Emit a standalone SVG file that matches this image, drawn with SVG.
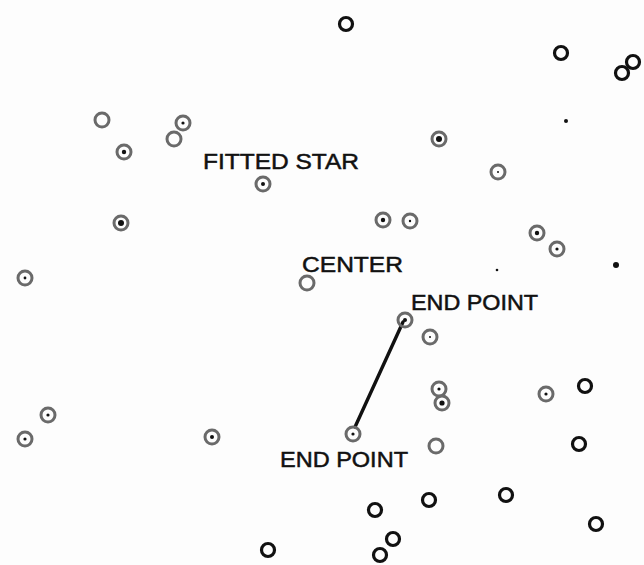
<svg xmlns="http://www.w3.org/2000/svg" width="644" height="565" viewBox="0 0 644 565">
<defs>
<style>
.bg{fill:#fdfdfd}
.g{fill:none;stroke:#6a6a6a;stroke-width:3}
.k{fill:none;stroke:#111;stroke-width:3.2}
.d{fill:#111}
.lbl{font-family:"Liberation Sans",Arial,sans-serif;font-size:22px;fill:#111;stroke:#111;stroke-width:0.5}
.conn{stroke:#111;stroke-width:3.4;stroke-linecap:round;fill:none}
</style>
</defs>
<rect class="bg" x="0" y="0" width="644" height="565"/>
<g id="connectors">
<line class="conn" x1="403" y1="322" x2="355" y2="427"/>
</g>
<g id="stars-black">
<circle class="k" cx="346" cy="24" r="6.5"/>
<circle class="k" cx="561" cy="53" r="6.5"/>
<circle class="k" cx="633" cy="62" r="6.5"/>
<circle class="k" cx="622" cy="73" r="6.5"/>
<circle class="k" cx="585" cy="386" r="6.5"/>
<circle class="k" cx="579" cy="444" r="6.5"/>
<circle class="k" cx="375" cy="510" r="6.5"/>
<circle class="k" cx="429" cy="500" r="6.5"/>
<circle class="k" cx="506" cy="495" r="6.5"/>
<circle class="k" cx="596" cy="524" r="6.5"/>
<circle class="k" cx="393" cy="539" r="6.5"/>
<circle class="k" cx="380" cy="555" r="6.5"/>
<circle class="k" cx="268" cy="550" r="6.5"/>
</g>
<g id="stars-gray">
<circle class="g" cx="102" cy="120" r="7"/>
<circle class="g" cx="183" cy="123" r="7"/><circle class="d" cx="183" cy="123" r="1.6"/>
<circle class="g" cx="174" cy="139" r="7"/>
<circle class="g" cx="124" cy="152" r="7"/><circle class="d" cx="124" cy="152" r="2.2"/>
<circle class="g" cx="121" cy="223" r="7"/><circle class="d" cx="121" cy="223" r="3"/>
<circle class="g" cx="439" cy="139" r="7"/><circle class="d" cx="439" cy="139" r="3"/>
<circle class="g" cx="498" cy="172" r="7"/><circle class="d" cx="498" cy="172" r="1"/>
<circle class="g" cx="383" cy="220" r="7"/><circle class="d" cx="383" cy="220" r="2.2"/>
<circle class="g" cx="410" cy="221" r="7"/><circle class="d" cx="410" cy="221" r="1.2"/>
<circle class="g" cx="537" cy="233" r="7"/><circle class="d" cx="537" cy="233" r="2.2"/>
<circle class="g" cx="557" cy="249" r="7"/><circle class="d" cx="557" cy="249" r="1.6"/>
<circle class="g" cx="25" cy="278" r="7"/><circle class="d" cx="25" cy="278" r="1.4"/>
<circle class="g" cx="430" cy="337" r="7"/><circle class="d" cx="430" cy="337" r="1"/>
<circle class="g" cx="439" cy="389" r="7"/><circle class="d" cx="439" cy="389" r="1.6"/>
<circle class="g" cx="442" cy="403" r="7"/><circle class="d" cx="442" cy="403" r="2.6"/>
<circle class="g" cx="546" cy="394" r="7"/><circle class="d" cx="546" cy="394" r="1.6"/>
<circle class="g" cx="436" cy="446" r="7"/>
<circle class="g" cx="48" cy="415" r="7"/><circle class="d" cx="48" cy="415" r="1.6"/>
<circle class="g" cx="25" cy="439" r="7"/><circle class="d" cx="25" cy="439" r="1.6"/>
<circle class="g" cx="212" cy="437" r="7"/><circle class="d" cx="212" cy="437" r="2"/>
</g>
<g id="faint-stars">
<circle class="d" cx="566" cy="121" r="2"/>
<circle class="d" cx="497" cy="270" r="1.3"/>
<circle class="d" cx="616" cy="265" r="3"/>
</g>
<g id="fitted-star">
<circle class="g" cx="263" cy="184" r="7"/><circle class="d" cx="263" cy="184" r="2"/>
<text class="lbl" x="203" y="168.5" textLength="156" lengthAdjust="spacingAndGlyphs">FITTED STAR</text>
</g>
<g id="center">
<circle class="g" cx="307" cy="283" r="7"/>
<text class="lbl" x="302" y="271.5" textLength="101" lengthAdjust="spacingAndGlyphs">CENTER</text>
</g>
<g id="end-point-top">
<circle class="g" cx="405" cy="320" r="7"/><circle class="d" cx="405" cy="320" r="2"/>
<text class="lbl" x="411" y="310" textLength="127" lengthAdjust="spacingAndGlyphs">END POINT</text>
</g>
<g id="end-point-bottom">
<circle class="g" cx="353" cy="434" r="7"/><circle class="d" cx="353" cy="434" r="1.6"/>
<text class="lbl" x="280" y="467" textLength="128" lengthAdjust="spacingAndGlyphs">END POINT</text>
</g>
</svg>
